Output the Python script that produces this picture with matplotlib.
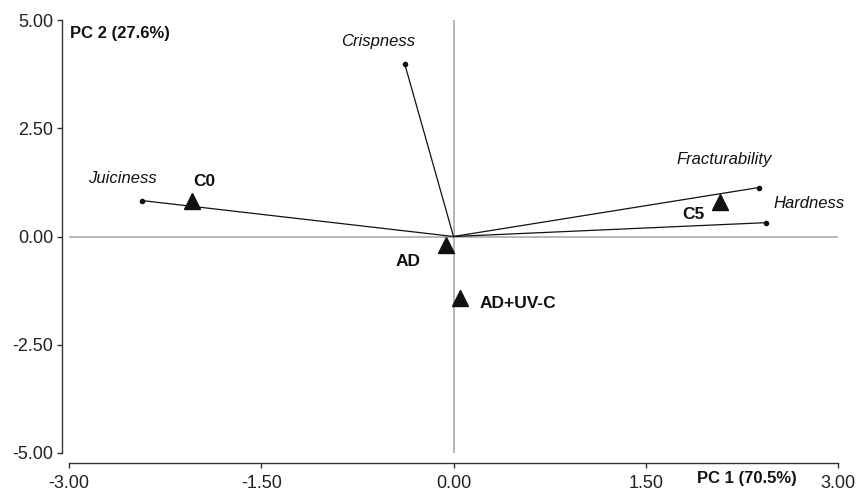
import matplotlib
matplotlib.use("Agg")
import matplotlib.pyplot as plt

plt.rcParams['font.family'] = ['Liberation Sans', 'DejaVu Sans']

# attribute loadings (vectors from origin)
attr_names = ['Crispness', 'Juiciness', 'Fracturability', 'Hardness']
attr_x = [-0.38, -2.43, 2.38, 2.44]
attr_y = [3.98, 0.83, 1.13, 0.32]

# treatment scores
trt_names = ['C0', 'C5', 'AD', 'AD+UV-C']
trt_x = [-2.04, 2.08, -0.06, 0.05]
trt_y = [0.81, 0.79, -0.20, -1.41]

xticks = [-3.0, -1.5, 0.0, 1.5, 3.0]
yticks = [-5.0, -2.5, 0.0, 2.5, 5.0]

# label offsets in points
attr_off = [(-19, 16), (-14, 16), (-25, 20), (31, 14)]
trt_off = [(9, 14), (-19, -9), (-27, -12), (42, -4)]

fig = plt.figure(figsize=(8.59, 4.92), dpi=100)
ax = fig.add_axes([0.0803, 0.0793, 0.8953, 0.88])

ax.axhline(0, color='#aaaaaa', lw=1.2, zorder=1)
ax.axvline(0, color='#aaaaaa', lw=1.2, zorder=1)

for name, x, y, off in zip(attr_names, attr_x, attr_y, attr_off):
    ax.plot([0, x], [0, y], color='#111111', lw=0.9, zorder=2)
    ax.plot(x, y, 'o', color='#111111', ms=3, zorder=3)
    ax.annotate(name, (x, y), xytext=off, textcoords='offset points',
                ha='center', va='center', style='italic', fontsize=12, color='#111111')

for name, x, y, off in zip(trt_names, trt_x, trt_y, trt_off):
    ax.plot(x, y, '^', color='#111111', ms=11, zorder=4)
    ax.annotate(name, (x, y), xytext=off, textcoords='offset points',
                ha='center', va='center', fontweight='bold', fontsize=12.5, color='#111111')

ax.set_xlim(-3, 3)
ax.set_ylim(-5, 5)
ax.set_xticks(xticks)
ax.set_yticks(yticks)
ax.set_xticklabels([f'{v:.2f}' for v in xticks])
ax.set_yticklabels([f'{v:.2f}' for v in yticks])

for side in ['top', 'right']:
    ax.spines[side].set_visible(False)
ax.spines['left'].set_position(('outward', 5))
ax.spines['bottom'].set_position(('outward', 7))
for side in ['left', 'bottom']:
    ax.spines[side].set_color('#333333')
    ax.spines[side].set_linewidth(1.0)
ax.tick_params(axis='both', length=3.5, width=1.0, color='#333333',
               labelsize=13, labelcolor='#222222')
ax.tick_params(axis='x', pad=5)
ax.tick_params(axis='y', pad=3)

ax.text(0.0013, 0.970, 'PC 2 (27.6%)', transform=ax.transAxes, ha='left', va='center',
        fontweight='bold', fontsize=12, color='#111111')
ax.text(0.882, -0.06, 'PC 1 (70.5%)', transform=ax.transAxes, ha='center', va='center',
        fontweight='bold', fontsize=12, color='#111111')

fig.savefig('out.png', dpi=100)
